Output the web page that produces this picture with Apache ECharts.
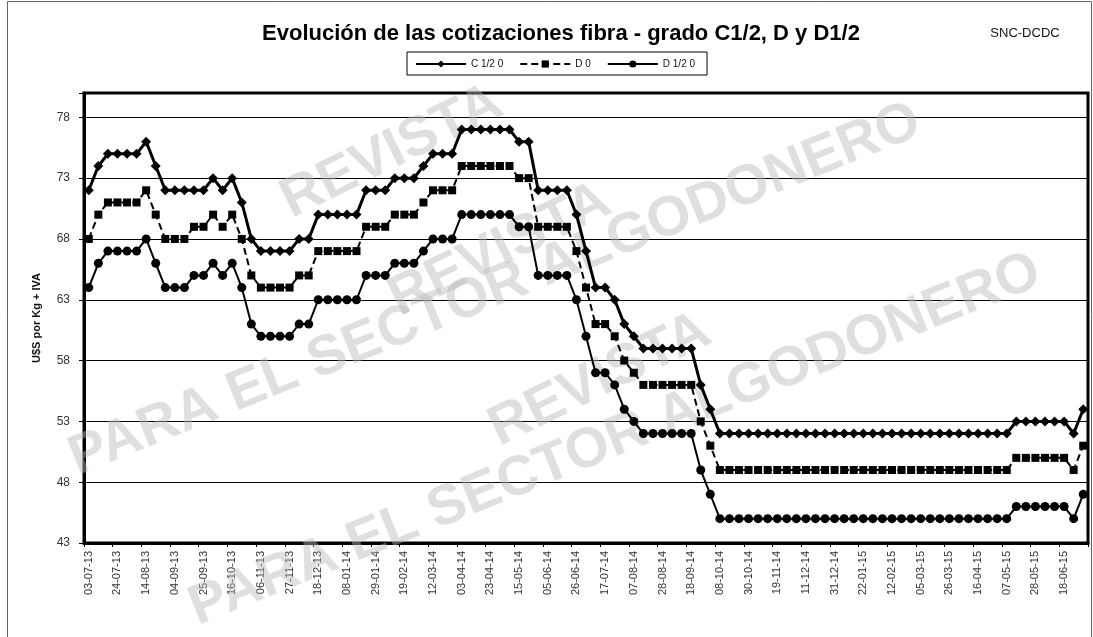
<!DOCTYPE html>
<html><head><meta charset="utf-8">
<script src="https://cdn.jsdelivr.net/npm/echarts@6/dist/echarts.min.js"></script>
<style>html,body{margin:0;padding:0;background:#fff}#c{width:1093px;height:637px}</style>
</head><body><div id="c"></div>
<script>
const tickLabels = ['03-07-13','24-07-13','14-08-13','04-09-13','25-09-13','16-10-13','06-11-13','27-11-13','18-12-13','08-01-14','29-01-14','19-02-14','12-03-14','03-04-14','23-04-14','15-05-14','05-06-14','26-06-14','17-07-14','07-08-14','28-08-14','18-09-14','08-10-14','30-10-14','19-11-14','11-12-14','31-12-14','22-01-15','12-02-15','05-03-15','26-03-15','16-04-15','07-05-15','28-05-15','18-06-15'];

const c12 = [72,74,75,75,75,75,76,74,72,72,72,72,72,73,72,73,71,68,67,67,67,67,68,68,70,70,70,70,70,72,72,72,73,73,73,74,75,75,75,77,77,77,77,77,77,76,76,72,72,72,72,70,67,64,64,63,61,60,59,59,59,59,59,59,56,54,52,52,52,52,52,52,52,52,52,52,52,52,52,52,52,52,52,52,52,52,52,52,52,52,52,52,52,52,52,52,52,53,53,53,53,53,53,52,54];
const d0 = [68,70,71,71,71,71,72,70,68,68,68,69,69,70,69,70,68,65,64,64,64,64,65,65,67,67,67,67,67,69,69,69,70,70,70,71,72,72,72,74,74,74,74,74,74,73,73,69,69,69,69,67,64,61,61,60,58,57,56,56,56,56,56,56,53,51,49,49,49,49,49,49,49,49,49,49,49,49,49,49,49,49,49,49,49,49,49,49,49,49,49,49,49,49,49,49,49,50,50,50,50,50,50,49,51];
const d12 = [64,66,67,67,67,67,68,66,64,64,64,65,65,66,65,66,64,61,60,60,60,60,61,61,63,63,63,63,63,65,65,65,66,66,66,67,68,68,68,70,70,70,70,70,70,69,69,65,65,65,65,63,60,57,57,56,54,53,52,52,52,52,52,52,49,47,45,45,45,45,45,45,45,45,45,45,45,45,45,45,45,45,45,45,45,45,45,45,45,45,45,45,45,45,45,45,45,46,46,46,46,46,46,45,47];

const seriesNames = ['C 1/2 0', 'D 0', 'D 1/2 0'];
const yMin = 43, yMax = 80, yStep = 5, yLastLabel = 78;

const categories = c12.map((_, i) => (i % 3 === 0 ? tickLabels[i / 3] : ''));

const chart = echarts.init(document.getElementById('c'), null, {renderer: 'canvas'});
const wm = {fontFamily: 'Liberation Sans, Arial, sans-serif', fontWeight: 'bold', fontSize: 56, fill: 'rgba(185,185,185,0.45)', textAlign: 'center', textVerticalAlign: 'middle'};
const deg = Math.PI / 180;
chart.setOption({
  animation: false,
  backgroundColor: '#fff',
  textStyle: {fontFamily: 'Liberation Sans, Arial, sans-serif'},
  title: [
    {text: 'Evolución de las cotizaciones fibra - grado C1/2, D y D1/2', left: 556, top: 18, textAlign: 'center',
     textStyle: {fontSize: 22, fontWeight: 'bold', color: '#000'}},
    {text: 'SNC-DCDC', left: 1020, top: 22, textAlign: 'center', textStyle: {fontSize: 13, fontWeight: 'normal', color: '#111'}}
  ],
  legend: {
    data: seriesNames, left: 407, top: 52, orient: 'horizontal',
    borderColor: '#000', borderWidth: 1, padding: [7, 12, 6, 8], itemGap: 16,
    itemWidth: 50, itemHeight: 9,
    textStyle: {fontSize: 10, color: '#111'}
  },
  graphic: [
    {type: 'rect', shape: {x: 7.5, y: 1.5, width: 1084, height: 640}, style: {fill: 'none', stroke: '#666', lineWidth: 1}, silent: true, z: -10},
    {type: 'text', x: 392, y: 152, rotation: 26 * deg, style: Object.assign({text: 'REVISTA'}, wm), silent: true, z: 1},
    {type: 'text', x: 500, y: 250, rotation: 26 * deg, style: Object.assign({text: 'REVISTA'}, wm), silent: true, z: 1},
    {type: 'text', x: 495, y: 290, rotation: 22 * deg, style: Object.assign({text: 'PARA EL SECTOR ALGODONERO'}, wm), silent: true, z: 1},
    {type: 'text', x: 600, y: 380, rotation: 26 * deg, style: Object.assign({text: 'REVISTA'}, wm), silent: true, z: 1},
    {type: 'text', x: 615, y: 440, rotation: 22 * deg, style: Object.assign({text: 'PARA EL SECTOR ALGODONERO'}, wm), silent: true, z: 1}
  ],
  grid: {left: 84, right: 5, top: 93, bottom: 94, show: true, borderColor: '#000', borderWidth: 3, backgroundColor: 'transparent', containLabel: false},
  xAxis: {
    type: 'category', data: categories, boundaryGap: true,
    axisLine: {lineStyle: {color: '#000', width: 3}},
    axisTick: {show: true, interval: 2, length: 4, lineStyle: {color: '#000', width: 1}},
    axisLabel: {interval: 2, rotate: 90, fontSize: 11, color: '#333', margin: 8},
    splitLine: {show: false}
  },
  yAxis: {
    type: 'value', min: yMin, max: yMax, interval: yStep,
    name: 'U$S por Kg + IVA', nameLocation: 'middle', nameGap: 42, nameRotate: 90,
    nameTextStyle: {fontSize: 11, fontWeight: 'bold', color: '#111'},
    axisLine: {show: true, lineStyle: {color: '#000', width: 3}},
    axisTick: {show: true, length: 5, lineStyle: {color: '#000'}},
    axisLabel: {fontSize: 12, color: '#333', margin: 14, formatter: v => (v > yLastLabel ? '' : String(v))},
    splitLine: {show: true, lineStyle: {color: '#000', width: 1}}
  },
  series: [
    {name: seriesNames[0], type: 'line', data: c12, symbol: 'diamond', symbolSize: 10, showAllSymbol: true, showSymbol: true,
     lineStyle: {color: '#000', width: 3}, itemStyle: {color: '#000'}, z: 5},
    {name: seriesNames[1], type: 'line', data: d0, symbol: 'rect', symbolSize: 8, showAllSymbol: true, showSymbol: true,
     lineStyle: {color: '#000', width: 2, type: [7, 4]}, itemStyle: {color: '#000'}, z: 4},
    {name: seriesNames[2], type: 'line', data: d12, symbol: 'circle', symbolSize: 9, showAllSymbol: true, showSymbol: true,
     lineStyle: {color: '#000', width: 2}, itemStyle: {color: '#000'}, z: 3}
  ]
});
</script></body></html>
